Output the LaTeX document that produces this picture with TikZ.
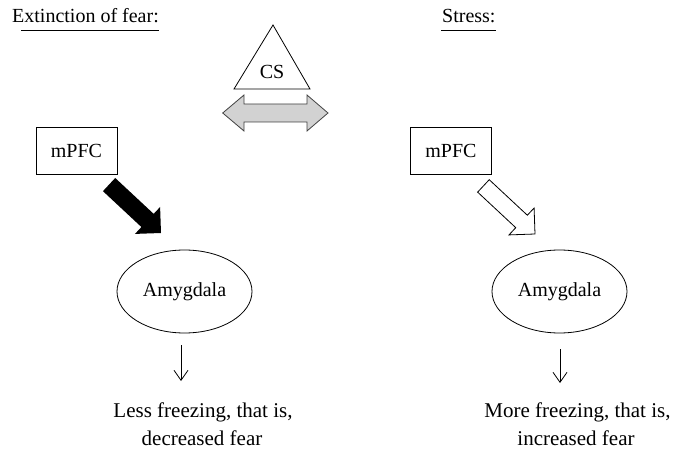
\documentclass[tikz,border=0pt]{standalone}
\usepackage{fontspec}
\setmainfont{Liberation Serif}
\usetikzlibrary{arrows.meta,shapes.geometric,calc}
\tikzset{
  txt/.style={inner sep=0pt, anchor=base},
  bigtxt/.style={txt, font=\fontsize{21}{25}\selectfont},
  box/.style={draw, line width=0.8pt, minimum width=81pt, minimum height=47pt, inner sep=0pt},
  amyg/.style={draw, ellipse, line width=0.8pt, minimum width=135pt, minimum height=83pt, inner sep=0pt},
  downarr/.style={line width=0.8pt, -{Straight Barb[length=10pt,width=14pt,line width=0.8pt]}},
  blockarr/.style={line width=0.8pt, line join=miter},
  uline/.style={line width=0.9pt}
}
\begin{document}
\begin{tikzpicture}[x=1pt,y=-1pt, font=\fontsize{20}{24}\selectfont]
\useasboundingbox (0,0) rectangle (675,449);

% titles
\node[txt, anchor=base west] (t1) at (12,23) {Extinction of fear:};
\draw[uline] ($(t1.base west)+(9,7)$) -- ($(t1.base east)+(0,7)$);
\node[txt, anchor=base west] (t2) at (442,23) {Stress:};
\draw[uline] ($(t2.base west)+(-1,7.5)$) -- ($(t2.base east)+(0,7.5)$);

% CS triangle
\draw[line width=0.8pt, line join=miter] (273,25) -- (234,89) -- (310,89) -- cycle;
\node (cs) at (272,72) {CS};

% grey double arrow
\draw[blockarr, draw=black!75, fill=gray!35]
  (222.7,113) -- (244,95) -- (244,104) -- (307,104) -- (307,95) -- (328,113)
  -- (307,131) -- (307,122) -- (244,122) -- (244,131) -- cycle;

% left side
\node[box] (m1) at (76.5,150.5) {mPFC};
\node[amyg] (a1) at (184.5,291.5) {Amygdala};
\coordinate (tip1) at (161,233);
\begin{scope}[shift={(tip1)}, rotate=-43, x=1pt, y=1pt]
  \fill[black] (0,0) -- (-18.4,18.4) -- (-18.4,9) -- (-71,9) -- (-71,-9)
    -- (-18.4,-9) -- (-18.4,-18.4) -- cycle;
\end{scope}
\coordinate (d1a) at (181,345);
\coordinate (d1b) at (181,381);
\draw[downarr] (d1a) -- (d1b);
\node[bigtxt] (l1) at (203,417) {Less freezing, that is,};
\node[bigtxt] (l2) at (202,445) {decreased fear};

% right side
\node[box] (m2) at (451,150.5) {mPFC};
\node[amyg] (a2) at (559.5,291.5) {Amygdala};
\coordinate (tip2) at (535,234);
\begin{scope}[shift={(tip2)}, rotate=-43, x=1pt, y=1pt]
  \draw[blockarr, fill=white] (0,0) -- (-18.4,18.4) -- (-18.4,8.5) -- (-70.5,8.5) -- (-70.5,-8.5)
    -- (-18.4,-8.5) -- (-18.4,-18.4) -- cycle;
\end{scope}
\coordinate (d2a) at (560,349);
\coordinate (d2b) at (560,383);
\draw[downarr] (d2a) -- (d2b);
\node[bigtxt] (r1) at (577.5,417) {More freezing, that is,};
\node[bigtxt] (r2) at (576,445) {increased fear};
\end{tikzpicture}
\end{document}
